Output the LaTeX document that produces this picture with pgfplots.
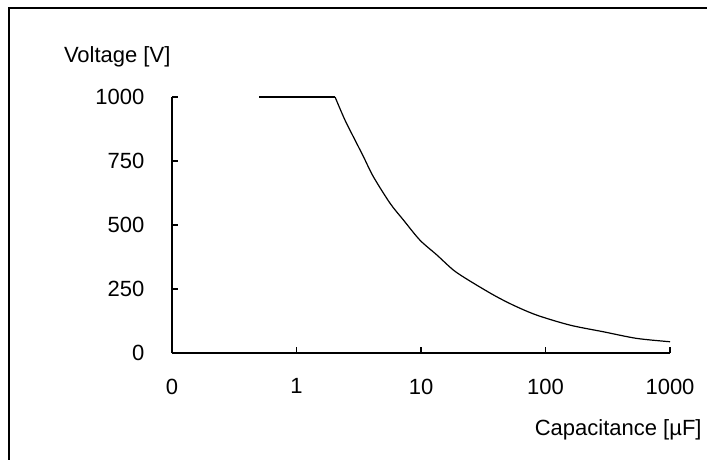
\documentclass[border=0pt]{standalone}
\usepackage{fontspec}
\setmainfont{Liberation Sans}
\usepackage{pgfplots}
\pgfplotsset{compat=1.18}
\begin{document}
\fontsize{11}{13}\selectfont
\begin{tikzpicture}
% 1 px of the reference = 0.5pt; axis origin at px (172,353)
\useasboundingbox (-86pt,-53.5pt) rectangle (267.5pt,176.5pt);
\draw[line width=0.8pt] (-81.5pt,-53.5pt) -- (-81.5pt,172.5pt) -- (267.5pt,172.5pt);
\begin{axis}[at={(0,0)},anchor=south west,scale only axis,
  width=249pt,height=128pt,
  xmode=log,xmin=0.1,xmax=1000,ymin=0,ymax=1000,
  axis x line=bottom,axis y line=left,axis line style={-,line width=0.8pt},
  tick align=inside,major tick length=3pt,tick style={line width=0.8pt,black},
  xminorticks=false,
  xtick={0.1,1,10,100,1000},xticklabels={0,1,10,100,1000},
  ytick={0,250,500,750,1000},yticklabels={0,250,500,750,1000},
  font=\fontsize{11}{13}\selectfont,
  yticklabel style={xshift=-10pt},
  xticklabel style={yshift=-9pt},
  xlabel={Capacitance [µF]},ylabel={Voltage [V]},
  xlabel style={at={(axis description cs:0.896,-0.30)},anchor=center},
  ylabel style={at={(axis description cs:-0.11,1.156)},anchor=center,rotate=-90},
  clip=false]
\addplot[black,line width=0.6pt] coordinates {(0.5,1000) (2.04,1000)};
\addplot[black,line width=0.6pt,smooth,tension=0.5] coordinates {
(2.04,1000) (2.45,910) (2.95,832) (3.45,767) (4.14,689)
(5.64,585) (7.21,520) (9.8,441) (13.4,383) (18.2,324) (24.0,285)
(38.1,227) (55,187) (85,148) (157,109) (291,83) (541,57) (1000,44)};
\end{axis}
\end{tikzpicture}
\end{document}
